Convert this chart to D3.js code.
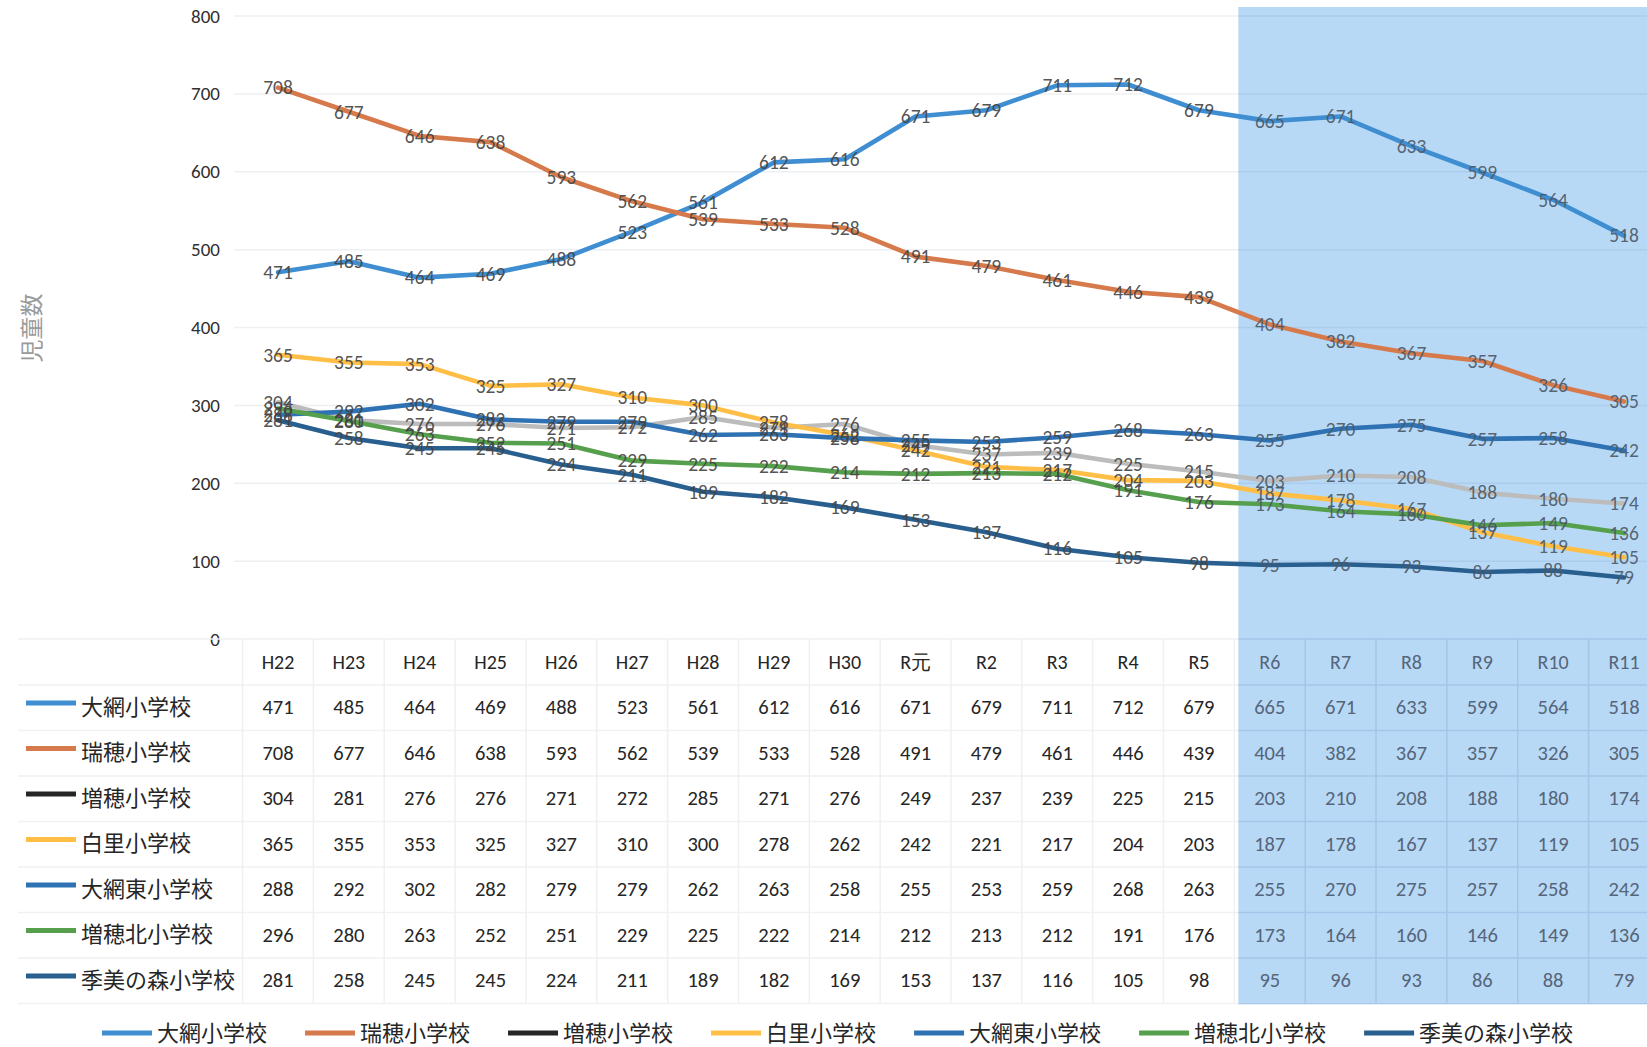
<!DOCTYPE html>
<html><head><meta charset="utf-8">
<script src="https://cdn.jsdelivr.net/npm/d3@7"></script>
<style>
html,body{margin:0;padding:0;background:#fff;overflow:hidden}
svg{display:block}
</style></head>
<body>
<svg id="chart" width="1647" height="1047"></svg>
<script>
const categories = ["H22","H23","H24","H25","H26","H27","H28","H29","H30","R元","R2","R3","R4","R5","R6","R7","R8","R9","R10","R11"];
const schools = ["大網小学校","瑞穂小学校","増穂小学校","白里小学校","大網東小学校","増穂北小学校","季美の森小学校"];
const oami      = [471,485,464,469,488,523,561,612,616,671,679,711,712,679,665,671,633,599,564,518];
const mizuho    = [708,677,646,638,593,562,539,533,528,491,479,461,446,439,404,382,367,357,326,305];
const masuho    = [304,281,276,276,271,272,285,271,276,249,237,239,225,215,203,210,208,188,180,174];
const shirasato = [365,355,353,325,327,310,300,278,262,242,221,217,204,203,187,178,167,137,119,105];
const oamiHigashi = [288,292,302,282,279,279,262,263,258,255,253,259,268,263,255,270,275,257,258,242];
const masuhoKita  = [296,280,263,252,251,229,225,222,214,212,213,212,191,176,173,164,160,146,149,136];
const kimino      = [281,258,245,245,224,211,189,182,169,153,137,116,105,98,95,96,93,86,88,79];
const yTicks = [0,100,200,300,400,500,600,700,800];
const forecastStart = "R6";
const yTitle = "児童数";

const seriesValues = [oami, mizuho, masuho, shirasato, oamiHigashi, masuhoKita, kimino];
const lineColors   = ["#3f8ed2","#d6794b","#bcbcbc","#ffbf47","#2f72b4","#56a04d","#285f8f"];
const legendColors = ["#3f8ed2","#d6794b","#262626","#ffbf47","#2f72b4","#56a04d","#285f8f"];

const numFont = "Carlito, Lato, 'Liberation Sans', sans-serif";
const jpFont = "'Noto Sans CJK JP', 'Noto Sans', sans-serif";

const svg = d3.select("#chart");
const W = 1647, H = 1047;
svg.append("rect").attr("width",W).attr("height",H).attr("fill","#fff");

const colW = 70.84;
const x0 = 242.6;
const x = d3.scaleBand().domain(categories).range([x0, x0 + colW*categories.length]).padding(0);
const y = d3.scaleLinear().domain([0,800]).range([639,16]);
const cx = c => x(c) + x.bandwidth()/2;
const fIdx = categories.indexOf(forecastStart);

const headerY = 662, rowY0 = 707, rowH = 45.5;
const tableTop = 639, tableBottom = rowY0 + rowH*6 + rowH/2;

// forecast shading
const shadeX = x(forecastStart) + 4;
svg.append("rect").attr("x", shadeX).attr("y", 7).attr("width", W - shadeX).attr("height", tableBottom - 7)
  .attr("fill", "#b8d9f6");

// gridlines
const grid = svg.append("g");
grid.selectAll("line").data(yTicks.filter(d=>d>0)).join("line")
  .attr("x1", 234).attr("x2", W).attr("y1", d=>y(d)).attr("y2", d=>y(d))
  .attr("stroke", "rgba(0,40,90,0.07)").attr("stroke-width", 1.5);

// y axis
const yAxis = svg.append("g").attr("transform","translate(236,0)")
  .call(d3.axisLeft(y).tickValues(yTicks).tickSize(0).tickPadding(16));
yAxis.select(".domain").remove();
yAxis.selectAll("text").attr("font-family", numFont).attr("font-size", 19).attr("fill","#303030");

// y title
svg.append("text").attr("transform","translate(30,328) rotate(-90)")
  .attr("text-anchor","middle").attr("dominant-baseline","central")
  .attr("font-family", jpFont).attr("font-size", 23).attr("fill","#9a9a9a").text(yTitle);

// table grid
const rowEdges = [tableTop, tableTop + (headerY - tableTop)*2];
for (let i = 1; i <= 7; i++) rowEdges.push(rowEdges[1] + i*rowH);
const tg = svg.append("g").attr("stroke-width",1.5);
tg.selectAll("line.h1").data(rowEdges).join("line").attr("class","h1")
  .attr("x1", 18).attr("x2", shadeX).attr("y1", d=>d).attr("y2", d=>d).attr("stroke","#f0f1f3");
tg.selectAll("line.h2").data(rowEdges).join("line").attr("class","h2")
  .attr("x1", shadeX).attr("x2", W).attr("y1", d=>d).attr("y2", d=>d).attr("stroke","#a3c6e8");
tg.selectAll("line.v").data(d3.range(categories.length + 1)).join("line").attr("class","v")
  .attr("x1", i=> x0 + i*colW).attr("x2", i=> x0 + i*colW)
  .attr("y1", tableTop).attr("y2", tableBottom)
  .attr("stroke", i => i > fIdx ? "#a3c6e8" : "#eff0f2");

// x axis (table header)
const xAxis = svg.append("g").attr("transform",`translate(0,${headerY})`)
  .call(d3.axisBottom(x).tickSize(0).tickPadding(0));
xAxis.select(".domain").remove();
xAxis.selectAll("text").attr("y",0).attr("dy","0.35em")
  .attr("font-family", numFont).attr("font-size", 20)
  .attr("fill", d => categories.indexOf(d) >= fIdx ? "#55657a" : "#262626");

// lines
const line = d3.line().x((d,i)=>cx(categories[i])).y(d=>y(d));
const lg = svg.append("g");
seriesValues.forEach((vals, s) => {
  lg.append("path").datum(vals).attr("d", line).attr("fill","none")
    .attr("stroke", lineColors[s]).attr("stroke-width", 4.6)
    .attr("stroke-linejoin","round").attr("stroke-linecap","round");
});

// data labels
const dl = svg.append("g");
seriesValues.forEach((vals, s) => {
  dl.append("g").selectAll("text").data(vals).join("text")
    .attr("x", (d,i)=>cx(categories[i])).attr("y", d=>y(d))
    .attr("text-anchor","middle").attr("dy","0.35em")
    .attr("font-family", numFont).attr("font-size", 19.5)
    .attr("fill", (d,i) => i >= fIdx ? "#4c5a68" : "#444")
    .attr("fill-opacity", 0.92)
    .text(d=>d);
});

// table rows
const rows = svg.append("g");
schools.forEach((name, s) => {
  const ry = rowY0 + s*rowH;
  rows.append("line").attr("x1", 26).attr("x2", 76).attr("y1", ry-4).attr("y2", ry-4)
    .attr("stroke", legendColors[s]).attr("stroke-width", 5);
  rows.append("text").attr("x", 81).attr("y", ry).attr("dy","0.35em")
    .attr("font-family", jpFont).attr("font-size", 22).attr("fill","#262626").text(name);
  rows.append("g").selectAll("text").data(seriesValues[s]).join("text")
    .attr("x", (d,i)=>cx(categories[i])).attr("y", ry).attr("dy","0.35em")
    .attr("text-anchor","middle").attr("font-family", numFont).attr("font-size", 20.5)
    .attr("fill", (d,i) => i >= fIdx ? "#55657a" : "#262626")
    .text(d=>d);
});

// bottom legend
const legY = 1033;
const leg = svg.append("g");
let lx = 102;
schools.forEach((name, s) => {
  const g = leg.append("g").attr("transform", `translate(${lx},${legY})`);
  g.append("line").attr("x1",0).attr("x2",50).attr("y1",0).attr("y2",0)
    .attr("stroke", legendColors[s]).attr("stroke-width",5);
  const t = g.append("text").attr("x",55).attr("y",0).attr("dy","0.35em")
    .attr("font-family", jpFont).attr("font-size", 22).attr("fill","#262626").text(name);
  const tw = t.node().getComputedTextLength();
  lx += 55 + tw + 38;
});
</script>
</body></html>
